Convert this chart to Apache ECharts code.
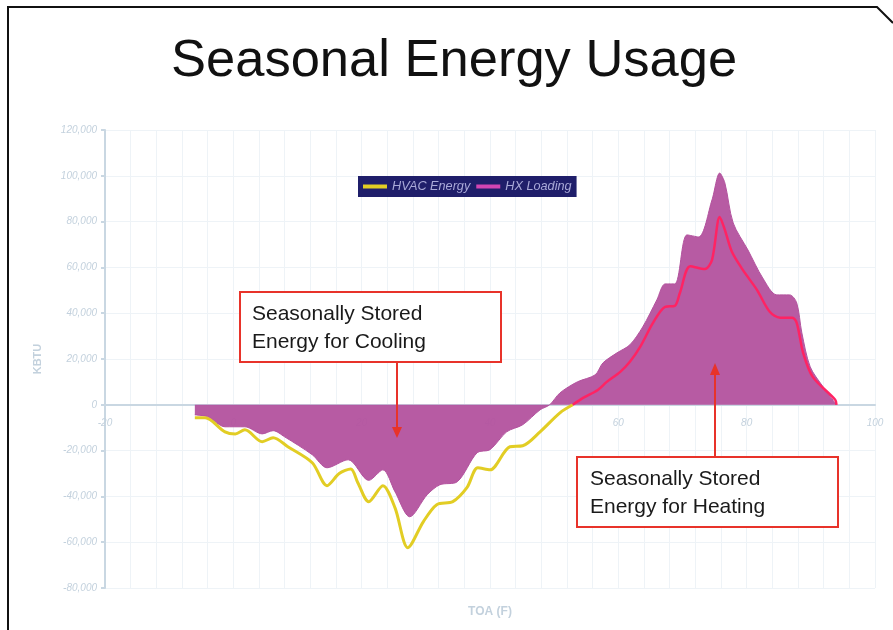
<!DOCTYPE html>
<html>
  <head>
    <meta charset="utf-8" />
    <title>Seasonal Energy Usage</title>
    <script src="https://cdn.jsdelivr.net/npm/echarts@6.0.0/dist/echarts.min.js"></script>
    <style>
      html, body { margin: 0; padding: 0; background: #fff; }
      #chart { width: 893px; height: 630px; }
    </style>
  </head>
  <body>
    <div id="chart"></div>
    <script type="text/javascript">
      // values: [TOA (F), KBTU]
      var hvacEnergy = [
        [-6, -5700], [-4.4, -5700], [-1.3, -11800], [0.3, -12700], [1.8, -10900],
        [4.5, -16100], [6.2, -14400], [8.5, -18300], [12.3, -25300], [14.6, -35300],
        [16.5, -30000], [18.3, -28000], [19.4, -34000], [21.1, -42300], [23.3, -35300],
        [25.2, -45000], [27.2, -62400], [29.6, -51100], [31.7, -43600], [34.2, -42300],
        [36.4, -36200], [38.1, -27500], [40, -28400], [43.1, -18300], [45.1, -17900],
        [47.8, -11800], [50.9, -3500], [52.9, 0], [54.5, 3000], [56.8, 6500],
        [58.2, 10000], [60.3, 14400], [61.8, 18800], [63.4, 25300], [65.4, 35800],
        [67.3, 42800], [68.8, 43200], [69.6, 48900], [71.2, 60500], [73.5, 59300],
        [74.6, 63300], [75.8, 82000], [76.6, 76400], [77.7, 66800], [79.4, 58900],
        [81.6, 50200], [83.6, 40600], [85.2, 38000], [87.1, 38000], [87.8, 35800],
        [88.8, 22700], [90.3, 12200], [93.8, 2200], [94, 0]
      ];
      var hxLoading = [
        [-6, -4400], [-4, -5200], [-1.3, -9600], [1.8, -9600], [4.5, -12700],
        [6.2, -11300], [8, -14000], [12.3, -21800], [14.6, -27500], [17.9, -24000],
        [21.1, -33000], [23.3, -28400], [25.2, -38000], [27.5, -48900], [30.2, -39300],
        [32.2, -34900], [34.9, -33600], [38, -20900], [40, -19600], [42.6, -11800],
        [45.1, -8700], [47.8, -2200], [49.3, 0], [50.9, 5200], [53.6, 10000],
        [56.4, 13100], [57.6, 18300], [59.8, 22700], [61.8, 26200], [63.8, 34000],
        [66, 45800], [67.3, 52800], [68.8, 52800], [70.7, 74200], [72.5, 73300],
        [74.6, 89500], [75.8, 101200], [76.6, 96900], [77.9, 79400], [80.2, 67600],
        [82.5, 55400], [84.7, 48000], [86.7, 48000], [87.8, 44500], [88.6, 31400],
        [89.9, 16600], [91.9, 7900], [94, 0]
      ];
      var seriesNames = ['HVAC Energy', 'HX Loading'];
      var xRange = [-20, 100, 20];
      var yRange = [-80000, 120000, 20000];

      // the HVAC line is yellow below zero and red above it: split where it crosses zero
      var crossAt = hvacEnergy.findIndex(function (p) { return p[1] > 0; });
      var hvacCooling = hvacEnergy.slice(0, crossAt);
      var hvacHeating = hvacEnergy.slice(crossAt - 1);

      var axisColor = '#c9d7e2';
      var gridColor = '#eef3f7';
      var labelStyle = { color: '#c3d1dd', fontStyle: 'italic', fontSize: 10, fontFamily: 'Liberation Sans' };

      var chart = echarts.init(document.getElementById('chart'));
      chart.setOption({
        backgroundColor: '#fff',
        title: {
          text: 'Seasonal Energy Usage',
          left: 166,
          top: 30,
          textStyle: { fontFamily: 'Liberation Sans', fontSize: 52.5, fontWeight: 'normal', color: '#111' }
        },
        legend: {
          data: [
            { name: seriesNames[0], itemStyle: { color: '#e2cd24' } },
            { name: seriesNames[1], itemStyle: { color: '#d245b3' } }
          ],
          left: 358,
          top: 176,
          icon: 'rect',
          itemWidth: 24,
          itemHeight: 4,
          itemGap: 6,
          padding: [4, 5],
          backgroundColor: '#1f1e6a',
          textStyle: { color: '#a9a9d8', fontStyle: 'italic', fontSize: 12.7, fontFamily: 'Liberation Sans' }
        },
        grid: { left: 105, right: 18, top: 130, bottom: 42, outerBoundsMode: 'none' },
        xAxis: {
          type: 'value',
          min: xRange[0], max: xRange[1], interval: xRange[2],
          name: 'TOA (F)',
          nameLocation: 'middle',
          nameGap: 18,
          nameTextStyle: { color: '#c3d1dd', fontWeight: 'bold', fontSize: 12, fontFamily: 'Liberation Sans' },
          axisLine: { show: true, onZero: true, lineStyle: { color: axisColor, width: 2 } },
          axisTick: { show: false },
          // labels sit just under the zero line, not at the grid bottom
          axisLabel: Object.assign({ margin: -170 }, labelStyle),
          splitLine: { show: true, lineStyle: { color: gridColor } },
          minorTick: { show: false, splitNumber: 5 },
          minorSplitLine: { show: true, lineStyle: { color: gridColor } }
        },
        yAxis: {
          type: 'value',
          min: yRange[0], max: yRange[1], interval: yRange[2],
          name: 'KBTU',
          nameLocation: 'middle',
          nameGap: 62,
          nameTextStyle: { color: '#c3d1dd', fontWeight: 'bold', fontSize: 11, fontFamily: 'Liberation Sans' },
          axisLine: { show: true, onZero: false, lineStyle: { color: axisColor, width: 2 } },
          axisTick: { show: true, length: 4, lineStyle: { color: axisColor, width: 2 } },
          axisLabel: Object.assign({ margin: 8 }, labelStyle),
          splitLine: { show: true, lineStyle: { color: gridColor } }
        },
        series: [
          {
            name: seriesNames[1],
            type: 'line',
            data: hxLoading,
            smooth: 0.3,
            symbol: 'none',
            color: '#b3529e',
            lineStyle: { width: 1, color: '#b3529e' },
            areaStyle: { color: '#b3529e', opacity: 0.95 },
            z: 2
          },
          {
            name: seriesNames[0],
            type: 'line',
            data: hvacCooling,
            smooth: 0.3,
            symbol: 'none',
            color: '#e2cd24',
            lineStyle: { width: 3, color: '#e2cd24' },
            z: 3
          },
          {
            name: seriesNames[0],
            type: 'line',
            data: hvacHeating,
            smooth: 0.3,
            symbol: 'none',
            color: '#ff2363',
            lineStyle: { width: 2.5, color: '#ff2363' },
            z: 3
          }
        ],
        graphic: [
          {
            type: 'polyline',
            shape: { points: [[8, 630], [8, 7], [877, 7], [893, 23]] },
            style: { stroke: '#111', lineWidth: 2, fill: null },
            z: 100
          },
          {
            type: 'rect',
            shape: { x: 240, y: 292, width: 261, height: 70 },
            style: { fill: '#fff', stroke: '#e8332a', lineWidth: 2 },
            z: 100
          },
          {
            type: 'text',
            x: 252, y: 300,
            style: { text: 'Seasonally Stored\nEnergy for Cooling', font: '21px "Liberation Sans"', lineHeight: 28, fill: '#1a1a1a' },
            z: 101
          },
          {
            type: 'line',
            shape: { x1: 397, y1: 362, x2: 397, y2: 430 },
            style: { stroke: '#e8332a', lineWidth: 2 },
            z: 100
          },
          {
            type: 'polygon',
            shape: { points: [[392, 427], [402, 427], [397, 438]] },
            style: { fill: '#e8332a' },
            z: 100
          },
          {
            type: 'rect',
            shape: { x: 577, y: 457, width: 261, height: 70 },
            style: { fill: '#fff', stroke: '#e8332a', lineWidth: 2 },
            z: 100
          },
          {
            type: 'text',
            x: 590, y: 465,
            style: { text: 'Seasonally Stored\nEnergy for Heating', font: '21px "Liberation Sans"', lineHeight: 28, fill: '#1a1a1a' },
            z: 101
          },
          {
            type: 'line',
            shape: { x1: 715, y1: 457, x2: 715, y2: 372 },
            style: { stroke: '#e8332a', lineWidth: 2 },
            z: 100
          },
          {
            type: 'polygon',
            shape: { points: [[710, 375], [720, 375], [715, 363]] },
            style: { fill: '#e8332a' },
            z: 100
          }
        ]
      });
    </script>
  </body>
</html>
